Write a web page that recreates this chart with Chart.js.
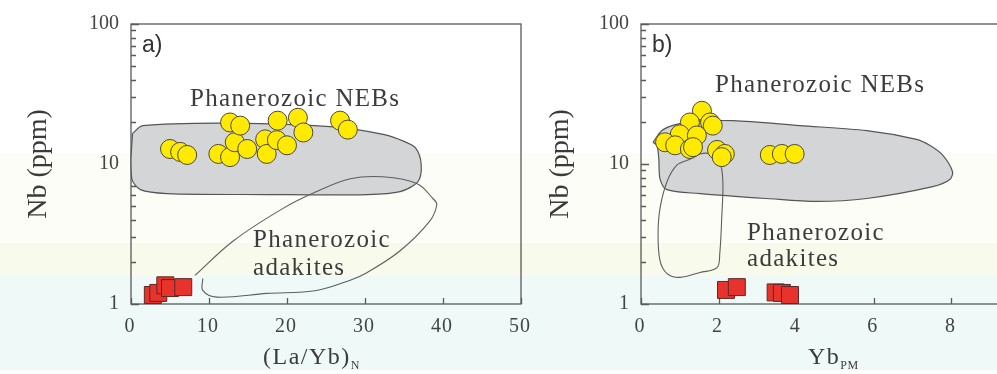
<!DOCTYPE html>
<html>
<head>
<meta charset="utf-8">
<script src="https://cdn.jsdelivr.net/npm/chart.js@4.4.1/dist/chart.umd.min.js"></script>
<style>
    html, body {
        margin: 0;
        padding: 0;
        width: 997px;
        height: 374px;
        overflow: hidden;
        background: linear-gradient(to bottom,
            #ffffff 0px, #ffffff 153px,
            #fdfdf8 153px, #fdfdf8 243px,
            #f8faeb 243px, #f8faeb 276px,
            #effaf8 276px, #effaf8 370px,
            #ffffff 370px);
    }
    canvas { position: absolute; top: 0; }
    #chartA { left: 0px; }
    #chartB { left: 510px; }
</style>
</head>
<body>
<canvas id="chartA" width="530" height="374"></canvas>
<canvas id="chartB" width="530" height="374"></canvas>
<script>
// Tick labels
const xTicksA = [0, 10, 20, 30, 40, 50];
const xTicksB = [0, 2, 4, 6, 8, 10];
const yTicks = [1, 10, 100];

// Panel a: (La/Yb)N vs Nb
const nebFieldAX = [0.2, 1.5, 13, 26, 32.5, 35, 36.5, 37.2, 36.8, 34.5, 30.3, 17.4, 4.6, 1.2, 0.1, 0.0, 0.2];
const nebFieldAY = [16.5, 18.8, 19.6, 18.4, 16.2, 14.5, 13.0, 10.0, 7.5, 6.35, 6.05, 6.05, 6.15, 6.56, 7.8, 10.8, 16.5];
const adakFieldAX = [8.2, 13.1, 19.5, 23.8, 28.1, 32.3, 36.7, 38.7, 39.2, 38.3, 34.5, 30.3, 28.1, 23.8, 17.4, 11.0, 9.2, 9.2];
const adakFieldAY = [1.60, 2.82, 4.82, 6.35, 7.84, 8.10, 7.23, 5.67, 5.14, 3.91, 2.40, 1.68, 1.48, 1.25, 1.19, 1.12, 1.25, 1.52];
const circlesAX = [5.0, 6.3, 7.2, 11.2, 12.7, 13.3, 12.7, 14.0, 14.9, 17.2, 17.4, 18.7, 18.8, 21.4, 22.1, 26.8, 27.8, 20.0];
const circlesAY = [12.8, 12.2, 11.6, 11.8, 11.2, 14.3, 19.8, 18.8, 12.8, 15.0, 11.8, 14.8, 20.4, 21.4, 16.8, 20.4, 17.6, 13.6];
const squaresAX = [2.8, 3.5, 4.4, 5.0, 6.7];
const squaresAY = [1.16, 1.20, 1.36, 1.30, 1.32];

// Panel b: YbPM vs Nb
const nebFieldBX = [0.31, 0.57, 1.18, 2.37, 4.09, 5.82, 7.10, 7.44, 7.77, 8.03, 7.95, 7.52, 5.82, 4.53, 3.24, 1.52, 0.67, 0.49, 0.46, 0.41, 0.31];
const nebFieldBY = [14.3, 17.6, 19.8, 20.4, 18.8, 17.3, 15.0, 13.6, 11.6, 8.79, 7.71, 6.89, 5.67, 5.40, 5.67, 6.15, 6.56, 7.84, 10.8, 13.6, 14.3];
const adakFieldBX = [1.26, 0.93, 0.67, 0.49, 0.44, 0.49, 0.67, 1.0, 1.52, 1.96, 2.03, 2.08, 2.11, 2.03, 1.78, 1.52, 1.26];
const adakFieldBY = [10.8, 9.84, 7.47, 4.82, 3.16, 2.04, 1.65, 1.55, 1.68, 1.82, 2.29, 4.10, 7.47, 10.3, 11.8, 11.8, 10.8];
const circlesBX = [1.57, 1.78, 1.85, 1.26, 1.0, 1.44, 0.62, 0.88, 1.26, 1.34, 1.96, 2.16, 3.32, 3.63, 3.96, 2.08];
const circlesBY = [24.0, 19.8, 18.8, 19.8, 16.3, 16.0, 14.3, 13.6, 12.8, 13.2, 12.6, 11.8, 11.6, 11.8, 11.8, 11.2];
const squaresBX = [2.19, 2.47, 3.47, 3.63, 3.84];
const squaresBY = [1.26, 1.32, 1.21, 1.20, 1.16];

const serif = "'Liberation Serif', 'DejaVu Serif', serif";
const sans = "'Liberation Sans', Arial, sans-serif";
const inkColor = '#3c3c3c';

function toPoints(xs, ys) {
    return xs.map((x, i) => ({ x: x, y: ys[i] }));
}

// Frame, inward ticks, x tick labels, subscripted axis title and text labels
const panelDecor = {
    id: 'panelDecor',
    beforeDatasetsDraw(chart, args, opts) {
        const ctx = chart.ctx;
        const area = chart.chartArea;
        const xs = chart.scales.x;
        const ys = chart.scales.y;
        ctx.save();
        ctx.strokeStyle = '#5a5a5a';
        ctx.lineWidth = 1.3;
        ctx.strokeRect(area.left, area.top, area.right - area.left, area.bottom - area.top);
        ctx.beginPath();
        opts.xTicks.forEach(v => {
            const px = Math.round(xs.getPixelForValue(v)) + 0.5;
            ctx.moveTo(px, area.bottom);
            ctx.lineTo(px, area.bottom - 6);
        });
        [1, 10].forEach(d => {
            for (let k = 1; k <= 10; k++) {
                const py = Math.round(ys.getPixelForValue(k * d)) + 0.5;
                const len = (k === 1 || k === 10) ? 8 : 5;
                ctx.moveTo(area.left, py);
                ctx.lineTo(area.left + len, py);
            }
        });
        ctx.stroke();

        // x tick labels
        ctx.fillStyle = '#444';
        ctx.font = '20px ' + serif;
        ctx.letterSpacing = '1px';
        ctx.textAlign = 'center';
        ctx.textBaseline = 'alphabetic';
        opts.xTicks.forEach(v => {
            ctx.fillText(String(v), xs.getPixelForValue(v) - 1, area.bottom + 28);
        });
        ctx.restore();
    },
    afterDraw(chart, args, opts) {
        const ctx = chart.ctx;
        ctx.save();
        ctx.textBaseline = 'alphabetic';
        ctx.textAlign = 'left';

        // panel letter
        ctx.font = '23px ' + sans;
        ctx.fillStyle = '#333';
        ctx.fillText(opts.letter, 142, 52);

        // field labels
        ctx.fillStyle = inkColor;
        ctx.font = '25px ' + serif;
        ctx.letterSpacing = '1.3px';
        opts.labels.forEach(l => ctx.fillText(l.text, l.x, l.y));

        // x axis title with subscript
        ctx.font = '24px ' + serif;
        ctx.letterSpacing = '1.5px';
        ctx.fillText(opts.xTitle, opts.xTitleX, 364);
        const w = ctx.measureText(opts.xTitle).width;
        ctx.font = '12px ' + serif;
        ctx.letterSpacing = '0.5px';
        ctx.fillText(opts.xSub, opts.xTitleX + w, 369);
        ctx.restore();
    }
};

function makeChart(canvasId, cfg) {
    const ctx = document.getElementById(canvasId).getContext('2d');
    return new Chart(ctx, {
        type: 'scatter',
        data: {
            datasets: [{
                label: 'Yellow samples',
                data: toPoints(cfg.circlesX, cfg.circlesY),
                pointStyle: 'circle',
                pointRadius: 9.5,
                pointBackgroundColor: '#ffea00',
                pointBorderColor: '#4a4a3a',
                pointBorderWidth: 1
            }, {
                label: 'Red samples',
                data: toPoints(cfg.squaresX, cfg.squaresY),
                pointStyle: 'rect',
                pointRadius: 12,
                pointBackgroundColor: '#e8322c',
                pointBorderColor: '#5a2a2a',
                pointBorderWidth: 1
            }, {
                label: 'Phanerozoic adakites',
                data: toPoints(cfg.adakX, cfg.adakY),
                showLine: true,
                fill: false,
                borderColor: '#5e5e5e',
                borderWidth: 1.1,
                tension: 0.35,
                pointRadius: 0
            }, {
                label: 'Phanerozoic NEBs',
                data: toPoints(cfg.nebX, cfg.nebY),
                showLine: true,
                fill: 'shape',
                backgroundColor: '#d4d5d6',
                borderColor: '#555555',
                borderWidth: 1.2,
                tension: 0.3,
                pointRadius: 0,
                clip: false
            }]
        },
        options: {
            responsive: false,
            animation: false,
            events: [],
            layout: {
                autoPadding: false,
                padding: { left: 0, right: cfg.padRight, top: 20, bottom: 0 }
            },
            plugins: {
                legend: { display: false },
                tooltip: { enabled: false },
                panelDecor: {
                    letter: cfg.letter,
                    xTicks: cfg.xTicks,
                    xTitle: cfg.xTitle,
                    xSub: cfg.xSub,
                    xTitleX: cfg.xTitleX,
                    labels: cfg.labels
                }
            },
            scales: {
                x: {
                    type: 'linear',
                    min: cfg.xTicks[0],
                    max: cfg.xTicks[cfg.xTicks.length - 1],
                    border: { display: false },
                    grid: { display: false, drawTicks: false },
                    ticks: { display: false },
                    afterBuildTicks: scale => {
                        scale.ticks = cfg.xTicks.map(v => ({ value: v }));
                    },
                    afterFit: scale => { scale.height = 70; }
                },
                y: {
                    type: 'logarithmic',
                    min: yTicks[0],
                    max: yTicks[yTicks.length - 1],
                    border: { display: false },
                    grid: { display: false, drawTicks: false },
                    ticks: {
                        padding: 12,
                        color: '#444',
                        font: { family: serif, size: 20 },
                        callback: v => String(v)
                    },
                    afterBuildTicks: scale => {
                        scale.ticks = yTicks.map(v => ({ value: v }));
                    },
                    title: {
                        display: true,
                        text: 'Nb (ppm)',
                        color: '#3a3a3a',
                        font: { family: serif, size: 28 },
                        padding: { top: cfg.titlePad, bottom: 0 }
                    },
                    afterFit: scale => { scale.width = 131; }
                }
            }
        },
        plugins: [panelDecor]
    });
}

makeChart('chartA', {
    nebX: nebFieldAX, nebY: nebFieldAY,
    adakX: adakFieldAX, adakY: adakFieldAY,
    circlesX: circlesAX, circlesY: circlesAY,
    squaresX: squaresAX, squaresY: squaresAY,
    xTicks: xTicksA,
    padRight: 9,
    titlePad: 22,
    letter: 'a)',
    xTitle: '(La/Yb)',
    xSub: 'N',
    xTitleX: 263,
    labels: [
        { text: 'Phanerozoic NEBs', x: 190, y: 106 },
        { text: 'Phanerozoic', x: 253, y: 247 },
        { text: 'adakites', x: 253, y: 275 }
    ]
});

makeChart('chartB', {
    nebX: nebFieldBX, nebY: nebFieldBY,
    adakX: adakFieldBX, adakY: adakFieldBY,
    circlesX: circlesBX, circlesY: circlesBY,
    squaresX: squaresBX, squaresY: squaresBY,
    xTicks: xTicksB,
    padRight: 11,
    titlePad: 34,
    letter: 'b)',
    xTitle: 'Yb',
    xSub: 'PM',
    xTitleX: 298,
    labels: [
        { text: 'Phanerozoic NEBs', x: 205, y: 92 },
        { text: 'Phanerozoic', x: 237, y: 240 },
        { text: 'adakites', x: 237, y: 266 }
    ]
});
</script>
</body>
</html>
